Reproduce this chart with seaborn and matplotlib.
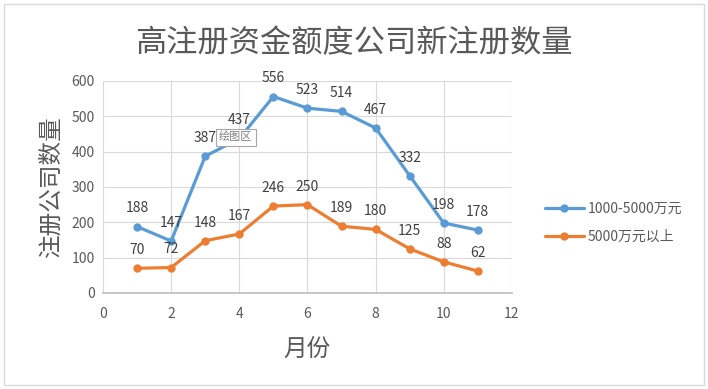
import matplotlib
matplotlib.use("Agg")
import matplotlib.pyplot as plt
import numpy as np
import pandas as pd
import seaborn as sns
from matplotlib.patches import Rectangle

# data
months = [1, 2, 3, 4, 5, 6, 7, 8, 9, 10, 11]
mid_series = [188, 147, 387, 437, 556, 523, 514, 467, 332, 198, 178]
high_series = [70, 72, 148, 167, 246, 250, 189, 180, 125, 88, 62]
series_names = ["1000-5000万元", "5000万元以上"]
colors = ["#5B9BD5", "#ED7D31"]

df = pd.DataFrame({
    "月份": months * 2,
    "数量": mid_series + high_series,
    "系列": [series_names[0]] * len(months) + [series_names[1]] * len(months),
})

sns.set_theme(style="white")
plt.rcParams["font.family"] = ["Noto Sans CJK SC", "DejaVu Sans"]

fig = plt.figure(figsize=(7.08, 3.89), dpi=100)
ax = fig.add_axes([0.1455, 0.2468, 0.5775, 0.545])

sns.lineplot(
    data=df, x="月份", y="数量", hue="系列", palette=colors,
    marker="o", markersize=6, markeredgewidth=0, linewidth=2.3, ax=ax,
)

# data labels
for vals in [mid_series, high_series]:
    for x, y in zip(months, vals):
        ax.annotate(str(y), (x, y), xytext=(0, 8), textcoords="offset points",
                    ha="center", va="bottom", fontsize=10, color="#404040")

ax.set_xlim(0, 12)
ax.set_ylim(0, 600)
ax.set_xticks(np.arange(0, 13, 2))
ax.set_yticks(np.arange(0, 601, 100))
ax.grid(True, color="#D9D9D9", linewidth=0.8)
for side in ["top", "right"]:
    ax.spines[side].set_visible(False)
ax.spines["left"].set_visible(False)
ax.spines["bottom"].set_color("#BFBFBF")
ax.tick_params(axis="both", labelsize=10, colors="#595959", length=0, pad=6)
ax.tick_params(axis="x", pad=10)

ax.set_xlabel("月份", fontsize=17, color="#595959", labelpad=12)
ax.set_ylabel("注册公司数量", fontsize=17, color="#595959", labelpad=6)

fig.text(0.5, 0.889, "高注册资金额度公司新注册数量", ha="center", va="center",
         fontsize=22.5, color="#595959")

leg = ax.legend(loc="center left", bbox_to_anchor=(1.05, 0.33), frameon=False,
                fontsize=10, handlelength=2.8, handletextpad=0.3, labelspacing=1.0)
for t in leg.get_texts():
    t.set_color("#595959")

# excel tooltip
fig.text(0.3095, 0.6475, "绘图区", fontsize=8, color="#7F7F7F", va="center",
         bbox=dict(boxstyle="square,pad=0.3", fc="white", ec="#A6A6A6", lw=0.8))

# outer chart border
fig.patches.append(Rectangle((0.006, 0.01), 0.988, 0.98, transform=fig.transFigure,
                             fill=False, ec="#D9D9D9", lw=1))

fig.savefig("out.png", dpi=100)
